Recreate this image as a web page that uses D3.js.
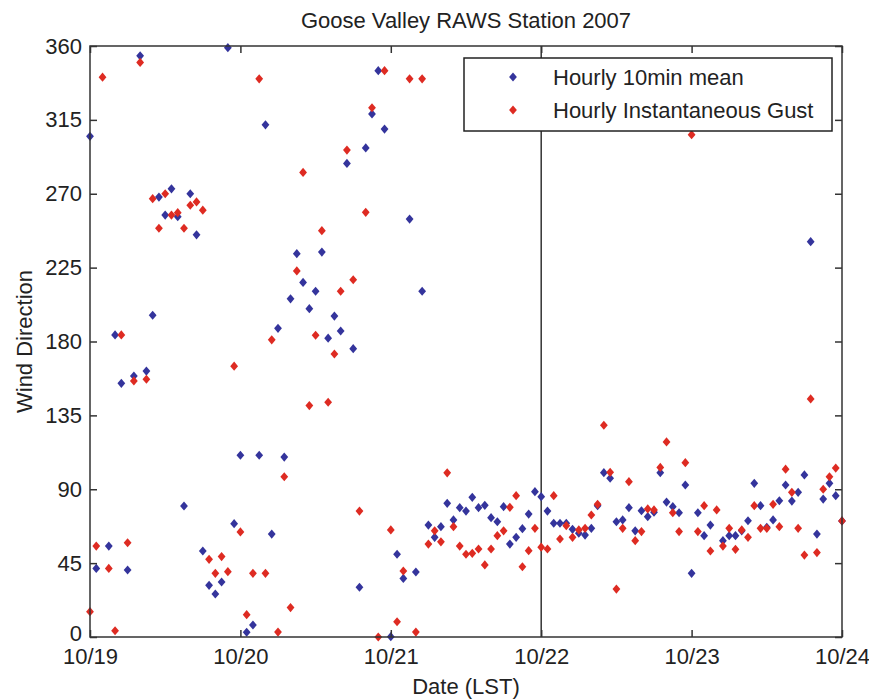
<!DOCTYPE html>
<html>
<head>
<meta charset="utf-8">
<script src="https://cdn.jsdelivr.net/npm/d3@7"></script>
<style>
  body { margin: 0; background: #fff; }
  text { font-family: "Liberation Sans", Arial, sans-serif; fill: #222; }
</style>
</head>
<body>
<svg id="chart" width="869" height="700"></svg>
<script>
// hourly values starting 10/19 00:00 LST, one entry per hour (null = no point)
const meanDir = [
  305, 41.8, null, 55.4, 184, 154.5, 40.8, 159, 354, 162,
  196, 268, 257, 273, 256, 79.8, 270, 245, 52.4, 31.5,
  26.2, 33.5, 359, 69, 110.7, 2.9, 7.3, 110.7, 312, 62.7,
  188, 109.6, 206, 233.5, 216, 200, 210.6, 234.5, 182, 195.5,
  186.4, 288.5, 175.6, 30.3, 297.9, 318.6, 345, 309.4, 0.2, 50.4,
  35.7, 254.6, 39.6, 210.6, 68.2, 60.7, 67.2, 81.4, 71.3, 78.8,
  76.7, 85.1, 78.8, 80.2, 72.7, 70.2, 79.4, 56.6, 60.7, 66,
  74.9, 88.5, 85.5, 76.7, 69.3, 69.3, 69.3, 65.6, 63.2, 62.1,
  66.2, 80, 100.1, 96.7, 70.2, 71.3, 78.8, 64.7, 76.9, 73.3,
  76, 100.1, 82.2, 79.4, 75.7, 92.6, 38.8, 75.7, 61.7, 68.2,
  null, 58.7, 61.7, 61.7, 64.7, 70.8, 93.6, 80, 66.8, 71.3,
  83, 92.6, 82.8, 88.1, 98.7, 240.8, 62.7, 84, 93.6, 86.1,
  70.7
];
const gustDir = [
  15.4, 55.4, 341, 41.8, 3.8, 184, 57.4, 156, 350, 157,
  267, 249, 270, 257, 258.5, 249, 263, 265, 260, 47.3,
  38.8, 49, 39.8, 165, 64, 13.6, 38.8, 340, 38.8, 181,
  3, 97.6, 17.9, 223, 283, 141, 183.8, 247.5, 143, 172.4,
  210.6, 296.6, 217.6, 76.7, 258.7, 322.4, 0, 345, 65.2, 9.3,
  40.2, 340, 3, 340, 56.6, 64.7, 58, 100, 67.2, 55.4,
  50.4, 51, 53.6, 43.9, 53.6, 61.7, 64.7, 79, 86.1, 42.8,
  52.6, 66.2, 54.7, 53.6, 86.1, 59.7, 67.8, 60.7, 65.2, 66.2,
  74.3, 80.8, 129, 100.3, 29.2, 66.2, 94.6, 58.7, 64.2, 78,
  77.4, 103.3, 118.8, 75.7, 64.2, 106.2, 306, 64.2, 80, 52.4,
  77.4, 55.4, 66.2, 53.4, 65.2, 60.7, 80, 66.2, 66.2, 80.8,
  67.2, 102.2, 88.1, 66.2, 49.9, 145, 51.4, 90, 97.6, 102.9,
  70.7
];
const dayTicks = ["10/19", "10/20", "10/21", "10/22", "10/23", "10/24"];
const yTicks = [0, 45, 90, 135, 180, 225, 270, 315, 360];
const markerLine = "10/22";
const seriesNames = ["Hourly 10min mean", "Hourly Instantaneous Gust"];

const svg = d3.select("#chart");
const margin = { left: 90, right: 27, top: 46, bottom: 63 };
const width = 869 - margin.left - margin.right;
const height = 700 - margin.top - margin.bottom;
const colors = ["#34349c", "#de2b22"];
const fontSize = 22;

const start = new Date(2007, 9, 19);
const toDate = (h) => new Date(start.getTime() + h * 3600 * 1000);
const parseDay = (s) => {
  const [m, d] = s.split("/").map(Number);
  return new Date(2007, m - 1, d);
};
const dayDates = dayTicks.map(parseDay);

const x = d3
  .scaleTime()
  .domain([dayDates[0], dayDates[dayDates.length - 1]])
  .range([0, width]);
const y = d3.scaleLinear().domain([0, 360]).range([height, 0]);

const g = svg
  .append("g")
  .attr("transform", `translate(${margin.left}, ${margin.top})`);

// vertical line at 10/22
g.append("line")
  .attr("x1", x(parseDay(markerLine)))
  .attr("x2", x(parseDay(markerLine)))
  .attr("y1", 0)
  .attr("y2", height)
  .attr("stroke", "#333")
  .attr("stroke-width", 1.5);

// points: blue first, red on top
const diamond = "M0,-4.6L3.9,0L0,4.6L-3.9,0Z";
[meanDir, gustDir].forEach((vals, i) => {
  const pts = vals
    .map((v, h) => ({ t: toDate(h), v }))
    .filter((d) => d.v != null);
  g.append("g")
    .selectAll("path")
    .data(pts)
    .join("path")
    .attr("d", diamond)
    .attr("transform", (d) => `translate(${x(d.t)}, ${y(d.v)})`)
    .attr("fill", colors[i]);
});

// frame
g.append("rect")
  .attr("width", width)
  .attr("height", height)
  .attr("fill", "none")
  .attr("stroke", "#333")
  .attr("stroke-width", 1.5);

// axes with inward ticks
const tickFmt = (d) => dayTicks[dayDates.findIndex((t) => +t === +d)];
const xAxis = g
  .append("g")
  .attr("transform", `translate(0, ${height})`)
  .call(d3.axisBottom(x).tickValues(dayDates).tickFormat(tickFmt).tickSize(-7).tickPadding(11));
const xTop = g
  .append("g")
  .call(d3.axisTop(x).tickValues(dayDates).tickFormat("").tickSize(-7));
const yAxis = g
  .append("g")
  .call(d3.axisLeft(y).tickValues(yTicks).tickSize(-7).tickPadding(8));
const yRight = g
  .append("g")
  .attr("transform", `translate(${width}, 0)`)
  .call(d3.axisRight(y).tickValues(yTicks).tickFormat("").tickSize(-7));

[xAxis, xTop, yAxis, yRight].forEach((a) => {
  a.select(".domain").remove();
  a.selectAll(".tick line").attr("stroke", "#333").attr("stroke-width", 1.5);
  a.selectAll(".tick text")
    .attr("font-size", fontSize)
    .attr("fill", "#222")
    .attr("font-family", "'Liberation Sans', Arial, sans-serif");
});
// the 0 label sits just above the 10/19 label, as in the original
yAxis.selectAll(".tick text").filter((d) => d === 0).attr("y", -4);

// titles
svg.append("text")
  .attr("x", margin.left + width / 2)
  .attr("y", 28)
  .attr("text-anchor", "middle")
  .attr("font-size", fontSize)
  .text("Goose Valley RAWS Station 2007");

svg.append("text")
  .attr("x", margin.left + width / 2)
  .attr("y", 694)
  .attr("text-anchor", "middle")
  .attr("font-size", fontSize)
  .text("Date (LST)");

svg.append("text")
  .attr("transform", `translate(32, ${margin.top + height / 2}) rotate(-90)`)
  .attr("text-anchor", "middle")
  .attr("font-size", fontSize)
  .text("Wind Direction");

// legend
const legend = svg.append("g").attr("transform", "translate(464, 58)");
legend.append("rect")
  .attr("width", 368)
  .attr("height", 73)
  .attr("fill", "#fff")
  .attr("stroke", "#222")
  .attr("stroke-width", 1.5);
seriesNames.forEach((name, i) => {
  const row = legend.append("g").attr("transform", `translate(0, ${19 + i * 33})`);
  row.append("path").attr("d", diamond).attr("transform", "translate(49, 0)").attr("fill", colors[i]);
  row.append("text")
    .attr("x", 89)
    .attr("y", 8)
    .attr("font-size", fontSize)
    .text(name);
});
</script>
</body>
</html>
